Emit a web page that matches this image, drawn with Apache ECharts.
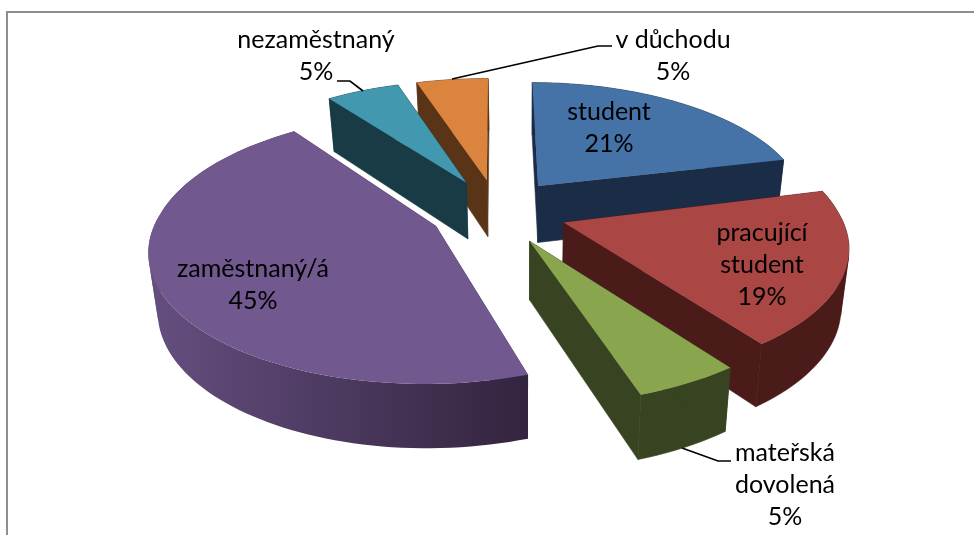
<!DOCTYPE html>
<html>
<head>
<meta charset="utf-8">
<style>html,body{margin:0;padding:0;background:#fff}#c{width:974px;height:535px}</style>
<script src="https://cdn.jsdelivr.net/npm/echarts@6/dist/echarts.min.js"></script>
</head>
<body>
<div id="c"></div>
<script>
// Data, in chart order, clockwise from 12 o'clock
const categories = ['student', 'pracující\nstudent', 'mateřská\ndovolená', 'zaměstnaný/á', 'nezaměstnaný', 'v důchodu'];
const values = [21, 19, 5, 45, 5, 5];

// Styles
const topColors = ['#4572a7', '#aa4643', '#89a54e', '#71588f', '#4198af', '#db843d'];
const wallColors = [
  ['#1b2c46', '#1b2c46'], ['#4a1b18', '#4a1b18'], ['#384421', '#384421'],
  ['#654f80', '#33243f'], ['#193b45', '#193b45'], ['#5a3417', '#5a3417']
];
const paintRank = [2, 4, 5, 3, 1, 0];
const labelPos = [[609, 128], [762, 265], [785, 485], [253, 285], [316, 56], [673, 56]];
const leaders = [
  [[337, 81], [350, 81], [363, 91]],
  [[452, 79], [598, 46], [612, 46]],
  [[682, 448], [718, 461], [731, 461]]
];
const rimScaleX = [0.97, 0.995, 1, 0.99, 0.98, 0.96];
const apexNudge = [[1, -2.5], [2.5, 0], [1, 1], [0, 0], [-1, -3], [0, -2.5]];

// Projection of the tilted pie
const CX = 497, CY = 205, A = 280, B = 127.5, EXPLODE = 0.24;
const BASE_VX = 525, BASE_SX = 0.975;
const project = (X, Y) => {
  const kx = Y < 0 ? 0.16 : 0.14, ky = Y < 0 ? 0.185 : 0.2;
  const bump = 7 * Math.max(0, 1 - (Y / 1.2) * (Y / 1.2));
  return [CX + A * X / (1 + kx * Y), CY - B * Y / (1 + ky * Y) + bump];
};
const lower = p => [BASE_VX + (p[0] - BASE_VX) * BASE_SX, p[1] + 49 + 0.04 * p[1]];

const total = values.reduce((a, b) => a + b, 0);

function renderSlice(params, api) {
  const i = params.dataIndex;
  const start = values.slice(0, i).reduce((a, b) => a + b, 0);
  const t0 = start / total * 2 * Math.PI;
  const t1 = (start + api.value(0)) / total * 2 * Math.PI;
  const mid = (t0 + t1) / 2;
  const ox = EXPLODE * Math.sin(mid), oy = EXPLODE * Math.cos(mid);
  const ap = project(ox, oy);
  const apex = [ap[0] + apexNudge[i][0], ap[1] + apexNudge[i][1]];
  const rim = [];
  const steps = Math.max(4, Math.round((t1 - t0) / 0.03));
  for (let s = 0; s <= steps; s++) {
    const t = t0 + (t1 - t0) * s / steps;
    rim.push(project(ox + rimScaleX[i] * Math.sin(t), oy + Math.cos(t)));
  }
  const flat = wallColors[i][0] === wallColors[i][1];
  const wallFill = flat ? wallColors[i][0] : {
    type: 'linear', x: 147, y: 0, x2: 525, y2: 0, global: true,
    colorStops: [{offset: 0, color: wallColors[i][0]}, {offset: 1, color: wallColors[i][1]}]
  };
  const quad = (a, b) => [a, b, lower(b), lower(a)];
  const wallStyle = flat ? {fill: wallFill, stroke: wallFill, lineWidth: 0.6} : {fill: wallFill};
  const radial = [quad(apex, rim[0]), quad(apex, rim[rim.length - 1])];
  const meanY = w => (w[0][1] + w[1][1]) / 2;
  radial.sort((a, b) => meanY(a) - meanY(b));
  const z = paintRank[i] * 10;
  const children = [];

  // Outer wall: one polygon for each run of the rim that turns the same way
  const turn = s => {
    const a = rim[s], b = rim[s + 1], c = lower(a);
    return Math.sign((b[0] - a[0]) * (c[1] - a[1]) - (b[1] - a[1]) * (c[0] - a[0]));
  };
  let runStart = 0;
  for (let s = 1; s <= steps; s++) {
    if (s === steps || turn(s) !== turn(s - 1)) {
      const part = rim.slice(runStart, s + 1);
      children.push({
        type: 'polygon', z2: z,
        shape: {points: part.concat(part.map(lower).reverse())},
        style: wallStyle
      });
      runStart = s;
    }
  }
  radial.forEach((w, k) => children.push({type: 'polygon', z2: z + 1 + k, shape: {points: w}, style: wallStyle}));
  children.push({type: 'polygon', z2: z + 5, shape: {points: [apex].concat(rim)}, style: {fill: topColors[i]}});
  children.push({
    type: 'text', z2: 200,
    style: {
      text: categories[i] + '\n' + api.value(0) + '%',
      x: labelPos[i][0], y: labelPos[i][1],
      align: 'center', verticalAlign: 'middle',
      font: '25px Lato', lineHeight: 32, fill: '#000'
    }
  });
  return {type: 'group', children};
}

const chart = echarts.init(document.getElementById('c'), null, {renderer: 'canvas'});
chart.setOption({
  backgroundColor: '#fff',
  animation: false,
  graphic: [
    {type: 'polyline', z: 1, shape: {points: [[7, 535], [7, 12], [974, 12]]}, style: {stroke: '#8e8e8e', lineWidth: 2, fill: null}}
  ].concat(leaders.map(pts => ({type: 'polyline', z: 20, shape: {points: pts}, style: {stroke: '#000', lineWidth: 1.7, fill: null}}))),
  series: [{
    type: 'custom',
    coordinateSystem: 'none',
    silent: true,
    z: 10,
    data: values.map(v => [v]),
    renderItem: renderSlice
  }]
});
</script>
</body>
</html>
